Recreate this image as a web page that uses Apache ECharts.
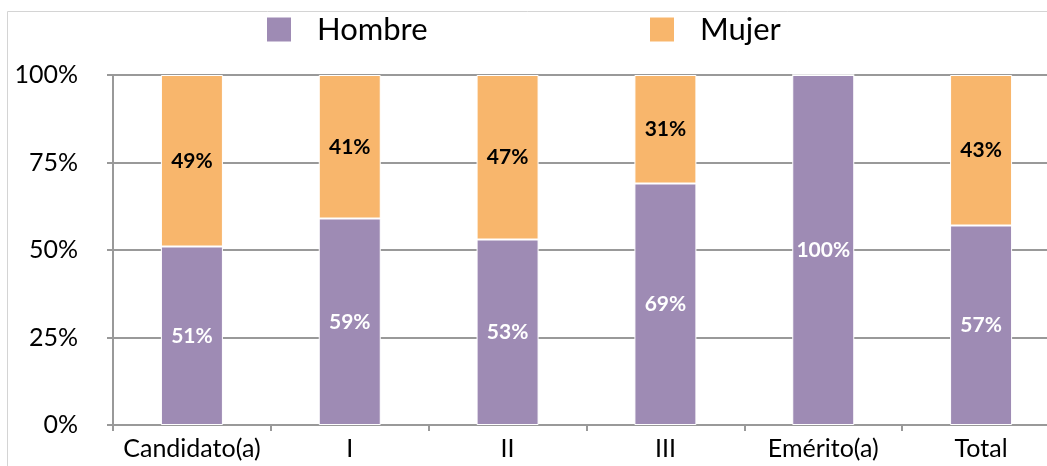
<!DOCTYPE html>
<html><head><meta charset="utf-8">
<script src="https://cdn.jsdelivr.net/npm/echarts@6/dist/echarts.min.js"></script>
<style>html,body{margin:0;padding:0;background:#fff}#c{width:1047px;height:466px}</style>
</head><body><div id="c"></div>
<script>
var categories = ['Candidato(a)', 'I', 'II', 'III', 'Emérito(a)', 'Total'];
var hombre = [51, 59, 53, 69, 100, 57];
var mujer = [49, 41, 47, 31, 0, 43];
var yTicks = [0, 25, 50, 75, 100];

var FONT = 'Lato';
var chart = echarts.init(document.getElementById('c'), null, {renderer: 'canvas'});
chart.setOption({
  animation: false,
  backgroundColor: '#fff',
  textStyle: {fontFamily: FONT},
  graphic: [{
    type: 'polyline', silent: true,
    shape: {points: [[7.5, 466], [7.5, 11.5], [1047, 11.5]]},
    style: {stroke: '#d4d4d4', lineWidth: 1, fill: null}
  }],
  legend: [{
    data: ['Hombre'], left: 265, top: 14, padding: 0, itemWidth: 26, itemHeight: 26, itemGap: 0,
    icon: 'rect',
    textStyle: {fontSize: 31, color: '#000', fontFamily: FONT, padding: [0, 0, 0, 20]}
  }, {
    data: ['Mujer'], left: 648, top: 14, padding: 0, itemWidth: 26, itemHeight: 26, itemGap: 0,
    icon: 'rect',
    textStyle: {fontSize: 31, color: '#000', fontFamily: FONT, padding: [0, 0, 0, 20]}
  }],
  grid: {left: 113, width: 947, top: 75, bottom: 41, containLabel: false, outerBoundsMode: 'none'},
  xAxis: {
    type: 'category', data: categories,
    axisLine: {lineStyle: {color: '#999', width: 2}},
    axisTick: {show: true, length: 6, lineStyle: {color: '#999', width: 2}},
    axisLabel: {interval: 0, fontSize: 25, color: '#000', margin: 11, fontFamily: FONT}
  },
  yAxis: {
    type: 'value', min: 0, max: 100, interval: 25,
    axisLine: {show: true, lineStyle: {color: '#999', width: 2}},
    axisTick: {show: true, length: 6, lineStyle: {color: '#999', width: 2}},
    splitLine: {lineStyle: {color: '#999', width: 2}},
    axisLabel: {fontSize: 25, color: '#000', margin: 35, fontFamily: FONT,
      formatter: function (v) { return yTicks.indexOf(v) >= 0 ? v + '%' : ''; }}
  },
  series: [{
    name: 'Hombre', type: 'bar', stack: 's', data: hombre, barWidth: 62,
    itemStyle: {color: '#9E8BB4', borderColor: '#fff', borderWidth: 1},
    label: {show: true, position: 'inside', color: '#fff', fontWeight: 'bold', fontSize: 21, fontFamily: FONT,
      formatter: function (p) { return p.value > 0 ? p.value + '%' : ''; }}
  }, {
    name: 'Mujer', type: 'bar', stack: 's', data: mujer, barWidth: 62,
    itemStyle: {color: '#F8B66C', borderColor: '#fff', borderWidth: 1},
    label: {show: true, position: 'inside', color: '#000', fontWeight: 'bold', fontSize: 21, fontFamily: FONT,
      formatter: function (p) { return p.value > 0 ? p.value + '%' : ''; }}
  }]
});
</script></body></html>
